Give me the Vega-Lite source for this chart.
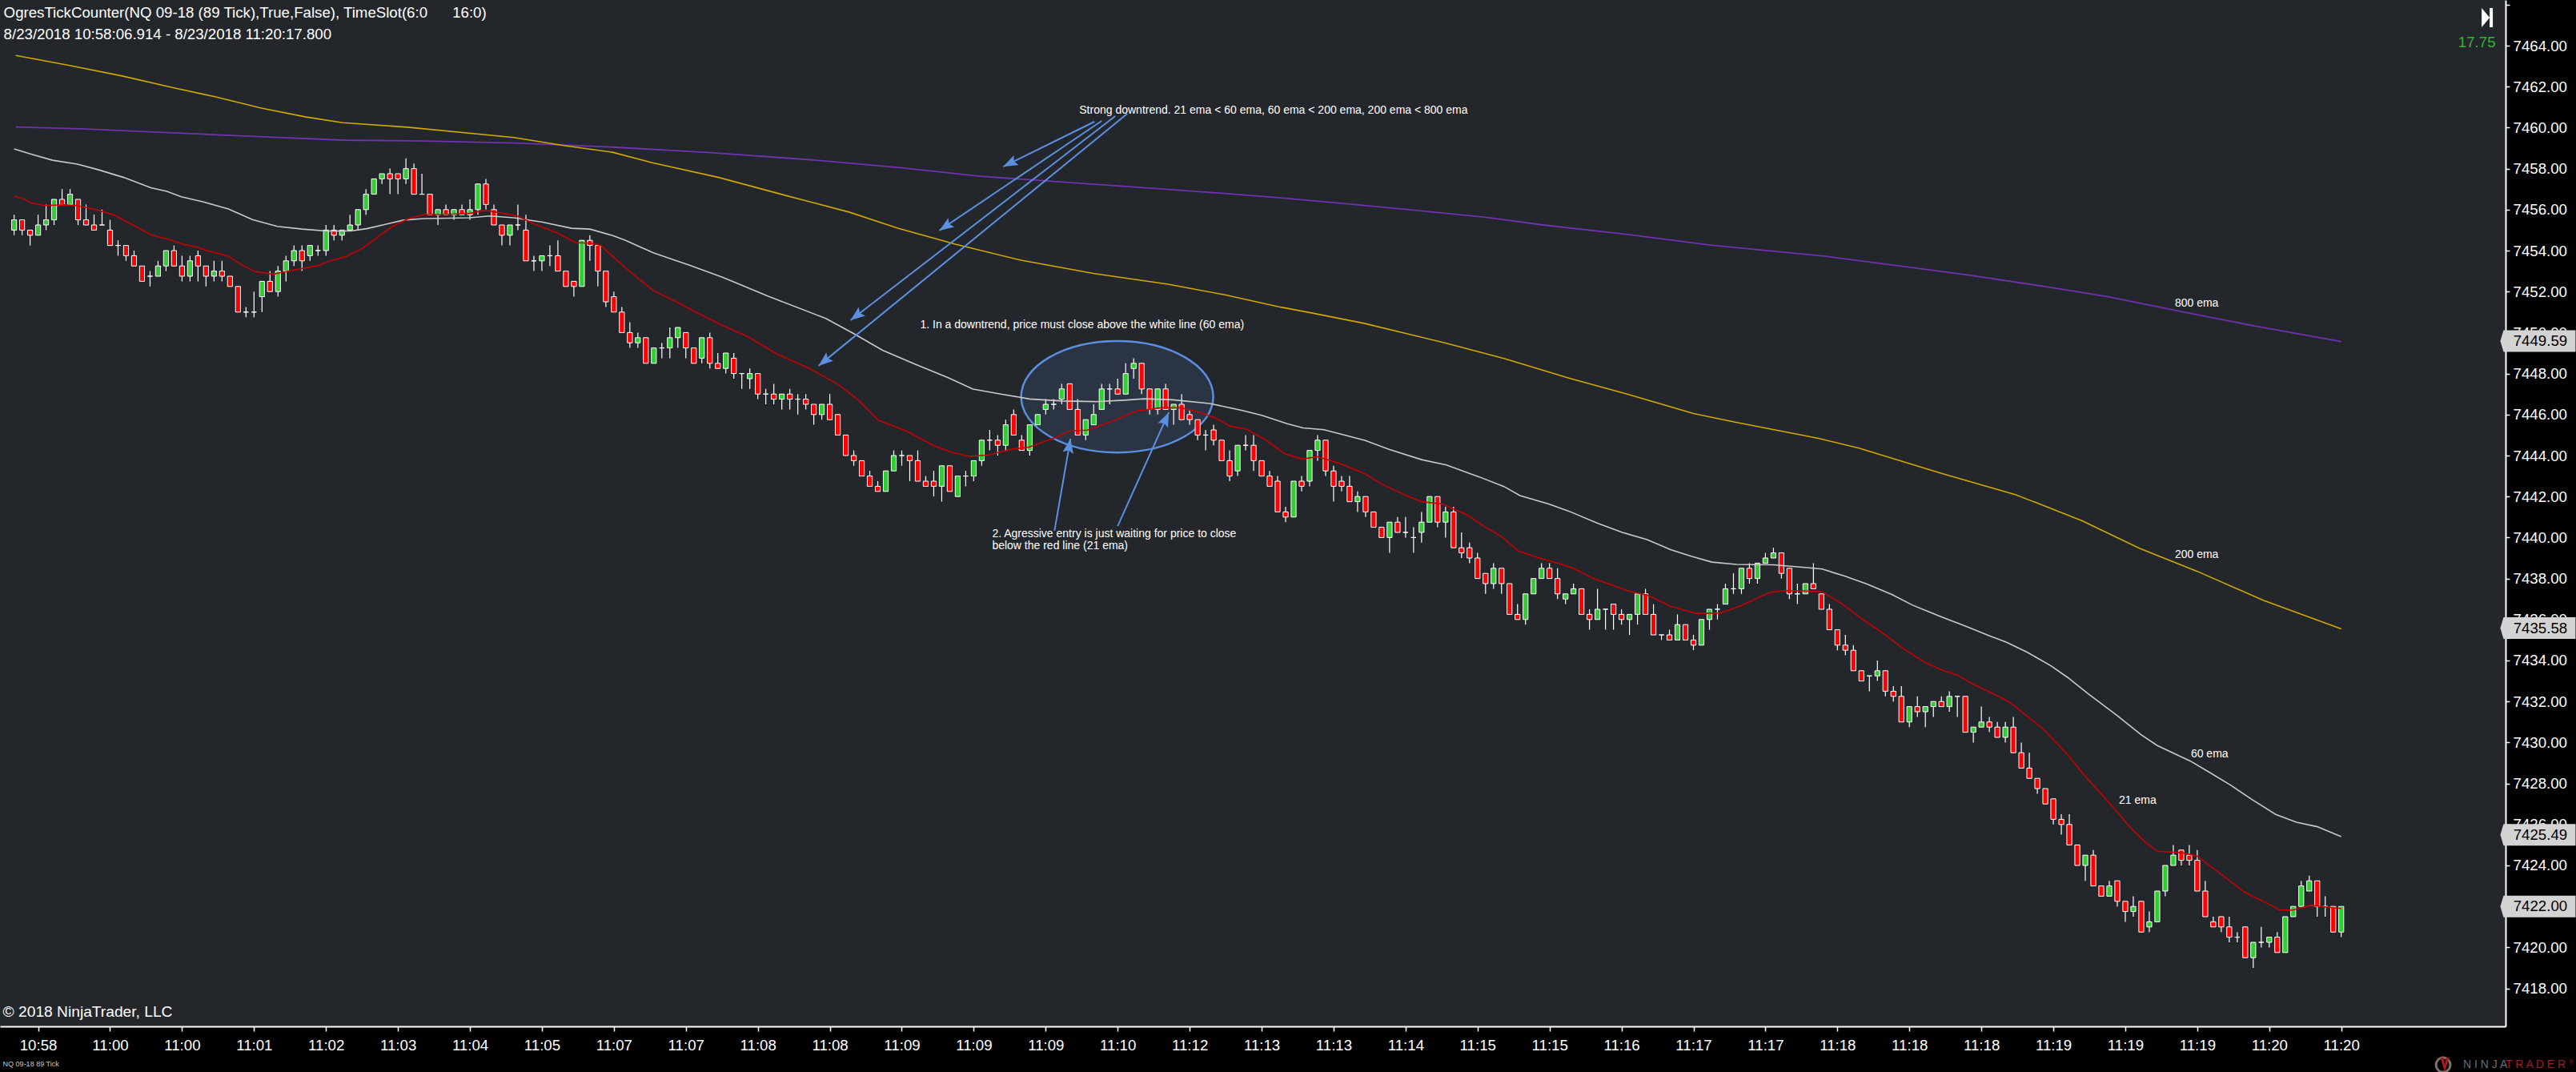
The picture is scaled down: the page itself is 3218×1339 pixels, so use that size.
{"$schema":"https://vega.github.io/schema/vega-lite/v6.json","width":3130,"height":1282,"autosize":{"type":"none"},"padding":{"left":0,"top":0,"right":88,"bottom":57},"background":"#000000","view":{"fill":"#23272c","stroke":null},
"datasets":{"candles":[
{"i":0,"open":7455,"high":7455.75,"low":7454.75,"close":7455.5},{"i":1,"open":7455.5,"high":7455.5,"low":7454.75,"close":7455},{"i":2,"open":7455,"high":7455,"low":7454.25,"close":7454.75},{"i":3,"open":7454.75,"high":7455.75,"low":7454.75,"close":7455.25},{"i":4,"open":7455.25,"high":7456.25,"low":7455,"close":7455.5},{"i":5,"open":7455.5,"high":7456.5,"low":7455.25,"close":7456.5},{"i":6,"open":7456.5,"high":7457,"low":7456.25,"close":7456.25},{"i":7,"open":7456.25,"high":7457,"low":7456.25,"close":7456.75},{"i":8,"open":7456.5,"high":7456.5,"low":7455.25,"close":7455.5},{"i":9,"open":7455.5,"high":7456.25,"low":7455.25,"close":7455.25},
{"i":10,"open":7455.25,"high":7455.75,"low":7455,"close":7455},{"i":11,"open":7455.25,"high":7456,"low":7455.25,"close":7455.25},{"i":12,"open":7455,"high":7455.5,"low":7454.25,"close":7454.25},{"i":13,"open":7454.25,"high":7454.5,"low":7453.75,"close":7454.25},{"i":14,"open":7454.25,"high":7454.25,"low":7453.5,"close":7453.75},{"i":15,"open":7453.75,"high":7454,"low":7453.25,"close":7453.25},{"i":16,"open":7453.25,"high":7453.25,"low":7452.5,"close":7452.5},{"i":17,"open":7452.75,"high":7453,"low":7452.25,"close":7452.75},{"i":18,"open":7452.75,"high":7453.5,"low":7452.75,"close":7453.25},{"i":19,"open":7453.25,"high":7454,"low":7453,"close":7454},
{"i":20,"open":7454,"high":7454.25,"low":7453.25,"close":7453.25},{"i":21,"open":7453.25,"high":7453.75,"low":7452.5,"close":7452.75},{"i":22,"open":7452.75,"high":7453.75,"low":7452.5,"close":7453.5},{"i":23,"open":7453.75,"high":7454,"low":7452.5,"close":7453.25},{"i":24,"open":7453.25,"high":7453.25,"low":7452.25,"close":7452.75},{"i":25,"open":7452.75,"high":7453.5,"low":7452.5,"close":7453},{"i":26,"open":7453,"high":7453.5,"low":7452.5,"close":7452.75},{"i":27,"open":7452.75,"high":7452.75,"low":7452.25,"close":7452.25},{"i":28,"open":7452.25,"high":7452.25,"low":7451,"close":7451},{"i":29,"open":7451,"high":7451.25,"low":7450.75,"close":7451},
{"i":30,"open":7451,"high":7452,"low":7450.75,"close":7451},{"i":31,"open":7451.75,"high":7452.5,"low":7451,"close":7452.5},{"i":32,"open":7452.5,"high":7453,"low":7452,"close":7452},{"i":33,"open":7452,"high":7453.25,"low":7451.75,"close":7453},{"i":34,"open":7453,"high":7453.75,"low":7452.5,"close":7453.5},{"i":35,"open":7453.5,"high":7454.25,"low":7453.25,"close":7454},{"i":36,"open":7454,"high":7454.25,"low":7453,"close":7453.5},{"i":37,"open":7453.75,"high":7454.25,"low":7453.5,"close":7454.25},{"i":38,"open":7454,"high":7454.25,"low":7453.75,"close":7454},{"i":39,"open":7454,"high":7455.25,"low":7453.75,"close":7455},
{"i":40,"open":7455,"high":7455.25,"low":7454.5,"close":7454.75},{"i":41,"open":7454.75,"high":7455,"low":7454.5,"close":7455},{"i":42,"open":7455,"high":7455.75,"low":7455,"close":7455.25},{"i":43,"open":7455.25,"high":7456,"low":7455,"close":7456},{"i":44,"open":7456,"high":7457,"low":7455.75,"close":7456.75},{"i":45,"open":7456.75,"high":7457.5,"low":7456.75,"close":7457.5},{"i":46,"open":7457.5,"high":7457.75,"low":7457.25,"close":7457.75},{"i":47,"open":7457.75,"high":7458,"low":7456.75,"close":7457.5},{"i":48,"open":7457.75,"high":7457.75,"low":7456.75,"close":7457.5},{"i":49,"open":7457.5,"high":7458.5,"low":7457.25,"close":7458},
{"i":50,"open":7458,"high":7458.25,"low":7456.75,"close":7456.75},{"i":51,"open":7456.75,"high":7457.75,"low":7456.75,"close":7456.75},{"i":52,"open":7456.75,"high":7456.75,"low":7455.75,"close":7455.75},{"i":53,"open":7455.75,"high":7456,"low":7455.25,"close":7456},{"i":54,"open":7456,"high":7456.25,"low":7455.75,"close":7455.75},{"i":55,"open":7455.75,"high":7456,"low":7455.5,"close":7456},{"i":56,"open":7456,"high":7456.25,"low":7455.75,"close":7455.75},{"i":57,"open":7455.75,"high":7456.5,"low":7455.5,"close":7456},{"i":58,"open":7456,"high":7457.25,"low":7455.75,"close":7457.25},{"i":59,"open":7457.25,"high":7457.5,"low":7456,"close":7456.25},
{"i":60,"open":7456,"high":7456.25,"low":7455.25,"close":7455.25},{"i":61,"open":7455.25,"high":7455.25,"low":7454.25,"close":7454.75},{"i":62,"open":7454.75,"high":7455.25,"low":7454.25,"close":7455.25},{"i":63,"open":7455.25,"high":7456.25,"low":7455,"close":7455.25},{"i":64,"open":7455,"high":7455.75,"low":7453.5,"close":7453.5},{"i":65,"open":7453.5,"high":7453.75,"low":7453,"close":7453.5},{"i":66,"open":7453.5,"high":7453.75,"low":7453,"close":7453.75},{"i":67,"open":7453.75,"high":7454.25,"low":7453.25,"close":7453.75},{"i":68,"open":7453.75,"high":7454.5,"low":7453,"close":7453},{"i":69,"open":7453,"high":7453,"low":7452.25,"close":7452.25},
{"i":70,"open":7452.5,"high":7452.5,"low":7451.75,"close":7452.25},{"i":71,"open":7452.25,"high":7454.5,"low":7452.25,"close":7454.5},{"i":72,"open":7454.5,"high":7454.75,"low":7453.5,"close":7454.25},{"i":73,"open":7454.25,"high":7454.25,"low":7452.25,"close":7453},{"i":74,"open":7453,"high":7453,"low":7451.25,"close":7451.5},{"i":75,"open":7451.75,"high":7452,"low":7451,"close":7451},{"i":76,"open":7451,"high":7451.25,"low":7450,"close":7450},{"i":77,"open":7450,"high":7450.5,"low":7449.25,"close":7449.5},{"i":78,"open":7449.5,"high":7450,"low":7449.25,"close":7449.75},{"i":79,"open":7449.75,"high":7449.75,"low":7448.5,"close":7448.5},
{"i":80,"open":7448.5,"high":7449.25,"low":7448.5,"close":7449.25},{"i":81,"open":7449.25,"high":7449.5,"low":7448.75,"close":7449.25},{"i":82,"open":7449.25,"high":7450.25,"low":7448.75,"close":7449.75},{"i":83,"open":7449.75,"high":7450.25,"low":7449.25,"close":7450.25},{"i":84,"open":7450,"high":7450,"low":7448.75,"close":7449.25},{"i":85,"open":7449.25,"high":7449.25,"low":7448.5,"close":7448.5},{"i":86,"open":7448.75,"high":7449.75,"low":7448.5,"close":7449.75},{"i":87,"open":7449.75,"high":7450,"low":7448.25,"close":7448.5},{"i":88,"open":7448.5,"high":7449,"low":7448.25,"close":7448.25},{"i":89,"open":7448.25,"high":7449,"low":7448,"close":7449},
{"i":90,"open":7448.75,"high":7449,"low":7447.75,"close":7448},{"i":91,"open":7448,"high":7448,"low":7447.25,"close":7448},{"i":92,"open":7447.75,"high":7448.25,"low":7447.25,"close":7448},{"i":93,"open":7448,"high":7448,"low":7446.75,"close":7447},{"i":94,"open":7447,"high":7447.25,"low":7446.5,"close":7447},{"i":95,"open":7447,"high":7447.5,"low":7446.5,"close":7446.75},{"i":96,"open":7446.75,"high":7447,"low":7446.25,"close":7447},{"i":97,"open":7447,"high":7447.25,"low":7446.25,"close":7446.75},{"i":98,"open":7446.75,"high":7447,"low":7446,"close":7446.75},{"i":99,"open":7446.75,"high":7447,"low":7446.25,"close":7446.5},
{"i":100,"open":7446.5,"high":7446.5,"low":7445.5,"close":7446},{"i":101,"open":7446,"high":7446.5,"low":7445.75,"close":7446.5},{"i":102,"open":7446.5,"high":7447,"low":7445.75,"close":7445.75},{"i":103,"open":7446,"high":7446,"low":7445,"close":7445},{"i":104,"open":7445,"high":7445,"low":7444,"close":7444},{"i":105,"open":7444,"high":7444.25,"low":7443.5,"close":7443.75},{"i":106,"open":7443.75,"high":7443.75,"low":7443,"close":7443},{"i":107,"open":7443,"high":7443.25,"low":7442.5,"close":7442.5},{"i":108,"open":7442.5,"high":7442.75,"low":7442.25,"close":7442.25},{"i":109,"open":7442.25,"high":7443.25,"low":7442.25,"close":7443.25},
{"i":110,"open":7443.25,"high":7444.25,"low":7443.25,"close":7444},{"i":111,"open":7444,"high":7444.25,"low":7443.5,"close":7444},{"i":112,"open":7444,"high":7444,"low":7442.75,"close":7443.75},{"i":113,"open":7443.75,"high":7444.25,"low":7442.75,"close":7442.75},{"i":114,"open":7442.75,"high":7443,"low":7442.5,"close":7442.5},{"i":115,"open":7442.75,"high":7443.25,"low":7442,"close":7442.5},{"i":116,"open":7442.5,"high":7443.5,"low":7441.75,"close":7443.5},{"i":117,"open":7443.5,"high":7443.5,"low":7442.25,"close":7442.25},{"i":118,"open":7442,"high":7443,"low":7442,"close":7443},{"i":119,"open":7443,"high":7443.25,"low":7442.5,"close":7443},
{"i":120,"open":7443,"high":7443.75,"low":7442.75,"close":7443.75},{"i":121,"open":7443.75,"high":7444.75,"low":7443.5,"close":7444.75},{"i":122,"open":7444.75,"high":7445.25,"low":7444.25,"close":7444.75},{"i":123,"open":7444.75,"high":7445,"low":7444,"close":7444.5},{"i":124,"open":7444.5,"high":7445.75,"low":7444.25,"close":7445.5},{"i":125,"open":7446,"high":7446.25,"low":7445,"close":7445},{"i":126,"open":7444.75,"high":7445,"low":7444.25,"close":7444.25},{"i":127,"open":7444.25,"high":7445.5,"low":7444,"close":7445.5},{"i":128,"open":7445.5,"high":7446,"low":7445.5,"close":7446},{"i":129,"open":7446.25,"high":7446.75,"low":7446,"close":7446.5},
{"i":130,"open":7446.5,"high":7446.75,"low":7446.25,"close":7446.5},{"i":131,"open":7446.75,"high":7447.5,"low":7446.5,"close":7447.25},{"i":132,"open":7447.5,"high":7447.5,"low":7446.25,"close":7446.25},{"i":133,"open":7446.25,"high":7446.75,"low":7445,"close":7445},{"i":134,"open":7445,"high":7445.75,"low":7444.75,"close":7445.75},{"i":135,"open":7445.5,"high":7446.5,"low":7445.5,"close":7446},{"i":136,"open":7446.25,"high":7447.5,"low":7446.25,"close":7447.25},{"i":137,"open":7447.25,"high":7447.5,"low":7446.5,"close":7447.25},{"i":138,"open":7447.25,"high":7447.75,"low":7447,"close":7447},{"i":139,"open":7447,"high":7448.5,"low":7447,"close":7448},
{"i":140,"open":7448.25,"high":7448.75,"low":7447.75,"close":7448.5},{"i":141,"open":7448.5,"high":7448.5,"low":7447,"close":7447.25},{"i":142,"open":7447.25,"high":7447.25,"low":7446,"close":7446.25},{"i":143,"open":7446.25,"high":7447.25,"low":7446,"close":7447.25},{"i":144,"open":7447.25,"high":7447.5,"low":7446.25,"close":7446.25},{"i":145,"open":7446.25,"high":7446.5,"low":7445.5,"close":7446.5},{"i":146,"open":7446.5,"high":7447,"low":7445.75,"close":7445.75},{"i":147,"open":7446,"high":7446.25,"low":7445.5,"close":7445.75},{"i":148,"open":7445.75,"high":7445.75,"low":7444.75,"close":7445},{"i":149,"open":7445,"high":7445.25,"low":7444.25,"close":7445},
{"i":150,"open":7445.25,"high":7445.5,"low":7444.5,"close":7444.75},{"i":151,"open":7444.75,"high":7444.75,"low":7443.75,"close":7443.75},{"i":152,"open":7443.75,"high":7444.25,"low":7442.75,"close":7443},{"i":153,"open":7443.25,"high":7444.5,"low":7443,"close":7444.5},{"i":154,"open":7444.5,"high":7445,"low":7444.25,"close":7444.5},{"i":155,"open":7444.5,"high":7445,"low":7443.25,"close":7443.75},{"i":156,"open":7443.75,"high":7443.75,"low":7443,"close":7443},{"i":157,"open":7443,"high":7443.25,"low":7442.5,"close":7442.5},{"i":158,"open":7442.75,"high":7443,"low":7441.25,"close":7441.25},{"i":159,"open":7441.25,"high":7441.5,"low":7440.75,"close":7441},
{"i":160,"open":7441,"high":7442.75,"low":7441,"close":7442.75},{"i":161,"open":7442.75,"high":7443,"low":7442.25,"close":7442.5},{"i":162,"open":7442.75,"high":7444.25,"low":7442.5,"close":7444.25},{"i":163,"open":7444.25,"high":7445,"low":7443.75,"close":7444.75},{"i":164,"open":7444.75,"high":7444.75,"low":7443,"close":7443.25},{"i":165,"open":7443.25,"high":7443.5,"low":7441.75,"close":7442.5},{"i":166,"open":7442.75,"high":7443,"low":7442.25,"close":7442.5},{"i":167,"open":7442.5,"high":7443,"low":7441.75,"close":7441.75},{"i":168,"open":7441.75,"high":7442.25,"low":7441.25,"close":7442},{"i":169,"open":7442,"high":7442,"low":7441,"close":7441.25},
{"i":170,"open":7441.25,"high":7441.25,"low":7440.5,"close":7440.5},{"i":171,"open":7440.5,"high":7440.5,"low":7440,"close":7440},{"i":172,"open":7440,"high":7440.75,"low":7439.25,"close":7440.75},{"i":173,"open":7440.75,"high":7441,"low":7440.25,"close":7440.25},{"i":174,"open":7440.25,"high":7441,"low":7440,"close":7440.25},{"i":175,"open":7440,"high":7440.5,"low":7439.25,"close":7440},{"i":176,"open":7440.25,"high":7441.25,"low":7439.75,"close":7440.75},{"i":177,"open":7440.75,"high":7442,"low":7440.75,"close":7442},{"i":178,"open":7442,"high":7442,"low":7440.5,"close":7440.75},{"i":179,"open":7440.75,"high":7441.5,"low":7440,"close":7441.25},
{"i":180,"open":7441.25,"high":7441.5,"low":7439.5,"close":7439.5},{"i":181,"open":7439.5,"high":7440.25,"low":7439,"close":7439.25},{"i":182,"open":7439.5,"high":7439.75,"low":7438.75,"close":7439},{"i":183,"open":7439,"high":7439.25,"low":7438,"close":7438},{"i":184,"open":7438.25,"high":7438.25,"low":7437.25,"close":7437.75},{"i":185,"open":7437.75,"high":7438.75,"low":7437.5,"close":7438.5},{"i":186,"open":7438.5,"high":7438.5,"low":7437.25,"close":7437.75},{"i":187,"open":7437.75,"high":7437.75,"low":7436.25,"close":7436.25},{"i":188,"open":7436.25,"high":7436.75,"low":7436,"close":7436},{"i":189,"open":7436,"high":7437.25,"low":7435.75,"close":7437.25},
{"i":190,"open":7437.25,"high":7438,"low":7437.25,"close":7438},{"i":191,"open":7438,"high":7438.75,"low":7438,"close":7438.5},{"i":192,"open":7438.5,"high":7438.75,"low":7438,"close":7438},{"i":193,"open":7438,"high":7438.5,"low":7437,"close":7437.25},{"i":194,"open":7437,"high":7437.25,"low":7436.75,"close":7437.25},{"i":195,"open":7437.25,"high":7437.75,"low":7437.25,"close":7437.5},{"i":196,"open":7437.5,"high":7437.5,"low":7436.25,"close":7436.25},{"i":197,"open":7436.25,"high":7436.5,"low":7435.5,"close":7436},{"i":198,"open":7436,"high":7437.5,"low":7436,"close":7436.5},{"i":199,"open":7436.5,"high":7436.5,"low":7435.5,"close":7436.5},
{"i":200,"open":7436.75,"high":7436.75,"low":7435.5,"close":7436.25},{"i":201,"open":7436.25,"high":7436.5,"low":7435.75,"close":7436},{"i":202,"open":7436,"high":7436.25,"low":7435.25,"close":7436.25},{"i":203,"open":7436.25,"high":7437.25,"low":7435.75,"close":7437.25},{"i":204,"open":7437.25,"high":7437.5,"low":7436.25,"close":7436.25},{"i":205,"open":7436.25,"high":7436.75,"low":7435.25,"close":7435.25},{"i":206,"open":7435.25,"high":7435.25,"low":7435,"close":7435.25},{"i":207,"open":7435.25,"high":7435.5,"low":7435,"close":7435},{"i":208,"open":7435,"high":7436.25,"low":7435,"close":7435.75},{"i":209,"open":7435.75,"high":7435.75,"low":7435,"close":7435},
{"i":210,"open":7435,"high":7435.25,"low":7434.5,"close":7434.75},{"i":211,"open":7434.75,"high":7436,"low":7434.75,"close":7436},{"i":212,"open":7436,"high":7436.5,"low":7435.5,"close":7436.5},{"i":213,"open":7436.5,"high":7436.75,"low":7436,"close":7436.5},{"i":214,"open":7436.75,"high":7437.75,"low":7436.75,"close":7437.5},{"i":215,"open":7437.5,"high":7438.25,"low":7437.25,"close":7437.5},{"i":216,"open":7437.5,"high":7438.5,"low":7437.25,"close":7438.5},{"i":217,"open":7438.5,"high":7438.75,"low":7437.75,"close":7438},{"i":218,"open":7438,"high":7438.75,"low":7437.75,"close":7438.75},{"i":219,"open":7438.75,"high":7439.25,"low":7438.75,"close":7439},
{"i":220,"open":7439,"high":7439.5,"low":7439,"close":7439.25},{"i":221,"open":7439.25,"high":7439.25,"low":7438,"close":7438.25},{"i":222,"open":7438.5,"high":7438.5,"low":7437,"close":7437.25},{"i":223,"open":7437.25,"high":7437.75,"low":7436.75,"close":7437.25},{"i":224,"open":7437.25,"high":7437.75,"low":7437.25,"close":7437.75},{"i":225,"open":7437.75,"high":7438.75,"low":7437.5,"close":7437.5},{"i":226,"open":7437.25,"high":7437.25,"low":7436.5,"close":7436.5},{"i":227,"open":7436.5,"high":7436.75,"low":7435.5,"close":7435.5},{"i":228,"open":7435.5,"high":7435.5,"low":7434.5,"close":7434.75},{"i":229,"open":7434.75,"high":7435.25,"low":7434.25,"close":7434.5},
{"i":230,"open":7434.5,"high":7434.75,"low":7433.5,"close":7433.5},{"i":231,"open":7433.5,"high":7433.5,"low":7433,"close":7433},{"i":232,"open":7433.25,"high":7433.25,"low":7432.5,"close":7433.25},{"i":233,"open":7433.25,"high":7434,"low":7433,"close":7433.5},{"i":234,"open":7433.5,"high":7433.5,"low":7432.25,"close":7432.5},{"i":235,"open":7432.5,"high":7432.75,"low":7432,"close":7432.25},{"i":236,"open":7432.25,"high":7432.75,"low":7431,"close":7431},{"i":237,"open":7431,"high":7431.75,"low":7430.75,"close":7431.75},{"i":238,"open":7431.75,"high":7432.25,"low":7431.25,"close":7431.5},{"i":239,"open":7431.5,"high":7431.75,"low":7430.75,"close":7431.75},
{"i":240,"open":7431.75,"high":7432,"low":7431.25,"close":7432},{"i":241,"open":7432,"high":7432.25,"low":7431.75,"close":7431.75},{"i":242,"open":7431.75,"high":7432.5,"low":7431.5,"close":7432.25},{"i":243,"open":7432.25,"high":7432.25,"low":7431.25,"close":7432.25},{"i":244,"open":7432.25,"high":7432.25,"low":7430.5,"close":7430.5},{"i":245,"open":7430.5,"high":7430.75,"low":7430,"close":7430.75},{"i":246,"open":7430.75,"high":7431.75,"low":7430.75,"close":7431},{"i":247,"open":7431,"high":7431.25,"low":7430.5,"close":7430.75},{"i":248,"open":7430.75,"high":7431,"low":7430.25,"close":7430.25},{"i":249,"open":7430.25,"high":7431,"low":7430,"close":7430.75},
{"i":250,"open":7430.75,"high":7431.25,"low":7429.5,"close":7429.5},{"i":251,"open":7429.5,"high":7430,"low":7428.75,"close":7428.75},{"i":252,"open":7428.75,"high":7429.5,"low":7428.25,"close":7428.25},{"i":253,"open":7428.25,"high":7428.25,"low":7427.5,"close":7427.75},{"i":254,"open":7427.75,"high":7427.75,"low":7427,"close":7427},{"i":255,"open":7427.25,"high":7427.25,"low":7426,"close":7426.25},{"i":256,"open":7426.25,"high":7426.5,"low":7425.5,"close":7426},{"i":257,"open":7426,"high":7426.5,"low":7425,"close":7425},{"i":258,"open":7425,"high":7425,"low":7424,"close":7424},{"i":259,"open":7424,"high":7424.5,"low":7423.25,"close":7424.5},
{"i":260,"open":7424.5,"high":7424.75,"low":7423,"close":7423},{"i":261,"open":7423,"high":7423,"low":7422.5,"close":7422.5},{"i":262,"open":7422.5,"high":7423.25,"low":7422.5,"close":7423},{"i":263,"open":7423.25,"high":7423.25,"low":7422,"close":7422.25},{"i":264,"open":7422.25,"high":7422.25,"low":7421.25,"close":7421.75},{"i":265,"open":7421.75,"high":7422.5,"low":7421.5,"close":7422},{"i":266,"open":7422.25,"high":7422.25,"low":7420.75,"close":7420.75},{"i":267,"open":7421,"high":7421.75,"low":7420.75,"close":7421.25},{"i":268,"open":7421.25,"high":7422.75,"low":7421.25,"close":7422.75},{"i":269,"open":7422.75,"high":7424,"low":7422.5,"close":7424},
{"i":270,"open":7424,"high":7425,"low":7424,"close":7424.5},{"i":271,"open":7424.75,"high":7424.75,"low":7424,"close":7424.25},{"i":272,"open":7424.5,"high":7425,"low":7424,"close":7424.25},{"i":273,"open":7424.25,"high":7424.75,"low":7422.75,"close":7422.75},{"i":274,"open":7422.75,"high":7423.25,"low":7421.5,"close":7421.5},{"i":275,"open":7421.25,"high":7421.5,"low":7421,"close":7421},{"i":276,"open":7421.5,"high":7421.5,"low":7420.75,"close":7421},{"i":277,"open":7421,"high":7421.5,"low":7420.25,"close":7420.5},{"i":278,"open":7420.5,"high":7420.75,"low":7420.25,"close":7420.5},{"i":279,"open":7421,"high":7421,"low":7419.5,"close":7419.5},
{"i":280,"open":7419.5,"high":7420.25,"low":7419,"close":7420.25},{"i":281,"open":7420.25,"high":7421,"low":7420,"close":7420.25},{"i":282,"open":7420.25,"high":7420.5,"low":7420,"close":7420.5},{"i":283,"open":7420.5,"high":7420.75,"low":7419.75,"close":7419.75},{"i":284,"open":7419.75,"high":7421.5,"low":7419.75,"close":7421.5},{"i":285,"open":7421.5,"high":7422,"low":7421.5,"close":7422},{"i":286,"open":7422,"high":7423.25,"low":7422,"close":7423},{"i":287,"open":7422.75,"high":7423.5,"low":7422.75,"close":7423.25},{"i":288,"open":7423.25,"high":7423.25,"low":7421.5,"close":7422},{"i":289,"open":7422,"high":7422.5,"low":7421.5,"close":7422},
{"i":290,"open":7422,"high":7422,"low":7420.75,"close":7420.75},{"i":291,"open":7420.75,"high":7422,"low":7420.5,"close":7422}
],
"ema21":[[0,7456.66],[1.2,7456.53],[2.1,7456.33],[3.8,7456.2],[6.3,7456.23],[7.9,7456.2],[10.4,7455.98],[12.5,7455.74],[15,7455.22],[17.1,7454.77],[19.1,7454.57],[21.2,7454.3],[22.9,7454.17],[24.2,7453.99],[26.8,7453.73],[28.3,7453.34],[30.1,7452.98],[32.4,7452.85],[35,7453.05],[38,7453.27],[39.5,7453.49],[41.6,7453.73],[43.6,7454.12],[45.2,7454.57],[47.2,7455.16],[49.3,7455.55],[51.3,7455.77],[54.4,7455.77],[56.9,7455.81],[58.5,7455.94],[59.5,7455.94],[63,7455.68],[65.1,7455.29],[67.9,7454.86],[70.2,7454.39],[72.3,7454.35],[73.4,7454.25],[74.8,7453.73],[76.9,7453.01],[80,7452.03],[82.8,7451.51],[85.1,7451.02],[88.4,7450.38],[91.8,7449.79],[95.3,7448.97],[99.4,7448.26],[103,7447.48],[105.6,7446.7],[108.1,7445.72],[111.7,7445.17],[115,7444.48],[117.3,7444.16],[119.3,7443.96],[121.9,7444.03],[124.5,7444.29],[127,7444.42],[130.6,7444.94],[132.1,7445.2],[134.2,7445.24],[137.2,7445.65],[140.3,7446.17],[143.4,7446.33],[145.9,7446.33],[148.5,7446.08],[150.5,7445.78],[152,7445.44],[154.1,7445.29],[156.6,7444.74],[158.9,7444.09],[161,7443.83],[163,7443.94],[165.8,7443.61],[168.9,7443.11],[171.2,7442.57],[174,7442.07],[176,7441.75],[178.6,7441.64],[181.7,7441.1],[184.2,7440.45],[186,7440.05],[188.1,7439.34],[190.4,7439.04],[193.2,7438.73],[195,7438.49],[197.5,7438],[202.1,7437.36],[204.2,7437.19],[207.2,7436.64],[210.3,7436.3],[213.4,7436.32],[215.9,7436.67],[219.5,7437.32],[221.5,7437.41],[223.6,7437.4],[226.1,7437.35],[228.7,7436.73],[231,7436.05],[233.8,7435.3],[236.3,7434.56],[238.9,7433.92],[241.2,7433.51],[243,7433.29],[245,7432.84],[247.8,7432.32],[249.6,7431.94],[253.7,7430.67],[256.8,7429.4],[258.8,7428.43],[260.9,7427.53],[262.4,7426.86],[264.9,7425.74],[266.5,7425.14],[268,7424.69],[271.1,7424.62],[272.9,7424.47],[275.7,7423.65],[279,7422.67],[282.1,7422.08],[283.3,7421.82],[284.9,7421.82],[287.2,7422.05],[289.2,7421.97],[291,7421.9]],
"ema60":[[0,7458.96],[2.2,7458.7],[4.8,7458.41],[7.9,7458.22],[10.4,7457.96],[13.7,7457.57],[17.1,7457.07],[19.1,7456.89],[20.9,7456.63],[23.7,7456.37],[26.8,7456.03],[29.8,7455.51],[32.9,7455.18],[36,7455.05],[39,7454.96],[42.1,7454.96],[44.1,7455.07],[46.2,7455.26],[48.7,7455.49],[51.3,7455.56],[54.4,7455.58],[56.9,7455.6],[59.5,7455.69],[62.5,7455.6],[66.1,7455.39],[69.7,7455.09],[72,7455.05],[74.8,7454.74],[76.4,7454.51],[78.3,7454.18],[80,7453.88],[84.6,7453.27],[88.7,7452.68],[94.3,7451.77],[101.5,7450.69],[105,7449.95],[108.6,7449.14],[112.7,7448.45],[116.8,7447.8],[119.9,7447.24],[123.4,7447],[127,7446.76],[131.1,7446.66],[135.2,7446.63],[138.8,7446.7],[141.3,7446.77],[144.9,7446.72],[149.5,7446.54],[153.6,7446.2],[156.1,7445.95],[159.2,7445.55],[161.2,7445.35],[163.8,7445.26],[168.9,7444.74],[172,7444.29],[176,7443.8],[179.1,7443.54],[183.2,7442.96],[186.3,7442.49],[188.3,7442.05],[191.9,7441.64],[194.4,7441.29],[198,7440.7],[201.1,7440.25],[204.2,7439.9],[207.2,7439.4],[209.8,7439.08],[212.3,7438.8],[215.4,7438.69],[220,7438.67],[223.6,7438.55],[226.1,7438.46],[228.9,7438.12],[231.7,7437.73],[234.8,7437.22],[237.4,7436.7],[241,7436.13],[244,7435.68],[247.1,7435.19],[249.1,7434.9],[251.7,7434.41],[254.7,7433.74],[256.8,7433.17],[259.3,7432.39],[262.9,7431.34],[266,7430.37],[268,7429.85],[272.1,7429.1],[274.7,7428.5],[277.2,7427.91],[279.8,7427.23],[282.8,7426.49],[285.4,7426.11],[288,7425.89],[291,7425.41]],
"ema200":[[0.2,7463.52],[6.8,7463.04],[13.5,7462.52],[20.1,7461.93],[25.2,7461.5],[30.9,7460.95],[36.5,7460.52],[41.1,7460.24],[49.2,7460.02],[62.5,7459.52],[68.7,7459.13],[74.8,7458.8],[79.9,7458.28],[88.1,7457.57],[96.2,7456.72],[104.4,7455.88],[110.5,7455.09],[117.7,7454.31],[125.9,7453.53],[135.1,7452.88],[144.3,7452.36],[151.4,7451.84],[158.4,7451.24],[162.5,7450.94],[168.7,7450.46],[179,7449.49],[186.3,7448.74],[194.5,7447.77],[201.8,7446.99],[210,7446.05],[215.2,7445.63],[225.5,7444.85],[230.7,7444.36],[241,7443.13],[250.3,7442.09],[258.6,7440.82],[265.8,7439.47],[273,7438.35],[281.3,7436.93],[291,7435.54]],
"ema800":[[0.2,7460.03],[8.4,7459.94],[18.6,7459.77],[28.8,7459.59],[41.1,7459.39],[51.3,7459.35],[62.5,7459.25],[74.8,7459.05],[87.1,7458.78],[100.3,7458.41],[110.5,7458.06],[120.8,7457.63],[129,7457.4],[141.2,7457.07],[151.4,7456.79],[158.4,7456.57],[165.6,7456.32],[173.9,7456.02],[184.2,7455.62],[191.4,7455.24],[201.8,7454.79],[212.1,7454.27],[226.6,7453.72],[234.8,7453.3],[244.1,7452.82],[254.4,7452.22],[261.7,7451.76],[272,7450.95],[280.3,7450.31],[291,7449.56]],
"arrows":[{"i":135.1,"p":7460.29,"ti":123.7,"tp":7458.1},{"i":136,"p":7460.33,"ti":115.7,"tp":7454.98},{"i":137.7,"p":7460.56,"ti":104.6,"tp":7450.6},{"i":139.2,"p":7460.68,"ti":100.6,"tp":7448.38},{"i":130.1,"p":7440.33,"ti":132.1,"tp":7444.82},{"i":138,"p":7440.56,"ti":144.4,"tp":7446.11}],
"flags":[{"label":"7449.59","p":7449.59},{"label":"7435.58","p":7435.58},{"label":"7425.49","p":7425.49},{"label":"7422.00","p":7422}]
},
"layer":[
{"data":{"values":[{"i":137.94,"p":7446.87}]},"mark":{"type":"point","filled":false,"shape":"M-1,0A1,0.58,0,1,0,1,0A1,0.58,0,1,0,-1,0Z","size":57600,"fill":"#5b8fe0","fillOpacity":0.13,"stroke":"#5b8fe0","strokeWidth":2.5,"opacity":1},"encoding":{"x":{"field":"i","type":"quantitative","scale":{"domain":[-1.762,311.55],"nice":false,"zero":false,"padding":0},"axis":{"values":[3,12,21,30,39,48,57,66,75,84,93,102,111,120,129,138,147,156,165,174,183,192,201,210,219,228,237,246,255,264,273,282,291],"labelExpr":"['10:58','11:00','11:00','11:01','11:02','11:03','11:04','11:05','11:07','11:07','11:08','11:08','11:09','11:09','11:09','11:10','11:12','11:13','11:13','11:14','11:15','11:15','11:16','11:17','11:17','11:18','11:18','11:18','11:19','11:19','11:19','11:20','11:20'][(datum.value-3)/9]","title":null,"grid":false,"domainColor":"#ffffff","domainWidth":2,"tickColor":"#ffffff","tickWidth":1.5,"tickSize":6,"labelColor":"#ffffff","labelFont":"Liberation Sans","labelFontSize":18.67,"labelPadding":8,"labelOverlap":false,"labelBound":false,"labelFlush":false}},"y":{"field":"p","type":"quantitative","scale":{"domain":[7416.148,7466.227],"nice":false,"zero":false},"axis":{"orient":"right","values":[7418,7420,7422,7424,7426,7428,7430,7432,7434,7436,7438,7440,7442,7444,7446,7448,7450,7452,7454,7456,7458,7460,7462,7464,7466],"labelExpr":"datum.value>=7466?'':format(datum.value,'.2f')","title":null,"grid":false,"domainColor":"#ffffff","domainWidth":2,"tickColor":"#ffffff","tickWidth":1.5,"tickSize":5,"labelColor":"#ffffff","labelFont":"Liberation Sans","labelFontSize":18.67,"labelPadding":4,"labelOverlap":false,"labelBound":false,"labelFlush":false}}}},
{"data":{"name":"candles"},"mark":{"type":"rule","color":"#ffffff","strokeWidth":1.2},"encoding":{"x":{"field":"i","type":"quantitative"},"y":{"field":"low","type":"quantitative"},"y2":{"field":"high"}}},
{"data":{"name":"candles"},"mark":{"type":"bar","width":6.2,"stroke":"#ffffff","strokeWidth":1,"opacity":1},"encoding":{"x":{"field":"i","type":"quantitative"},"y":{"field":"open","type":"quantitative"},"y2":{"field":"close"},"color":{"condition":{"test":"datum.close>datum.open","value":"#32cd32"},"value":"#ff0000"}}},
{"data":{"name":"ema800"},"mark":{"type":"line","color":"#6f33ad","strokeWidth":1.8},"encoding":{"x":{"field":"0","type":"quantitative"},"y":{"field":"1","type":"quantitative"}}},
{"data":{"name":"ema200"},"mark":{"type":"line","color":"#d0a800","strokeWidth":1.6},"encoding":{"x":{"field":"0","type":"quantitative"},"y":{"field":"1","type":"quantitative"}}},
{"data":{"name":"ema60"},"mark":{"type":"line","color":"#c9c9c9","strokeWidth":1.6},"encoding":{"x":{"field":"0","type":"quantitative"},"y":{"field":"1","type":"quantitative"}}},
{"data":{"name":"ema21"},"mark":{"type":"line","color":"#c80000","strokeWidth":1.6},"encoding":{"x":{"field":"0","type":"quantitative"},"y":{"field":"1","type":"quantitative"}}},
{"data":{"name":"arrows"},"mark":{"type":"rule","color":"#5b8fe0","strokeWidth":2},"encoding":{"x":{"field":"i","type":"quantitative"},"y":{"field":"p","type":"quantitative"},"x2":{"field":"ti"},"y2":{"field":"tp"}}},
{"data":{"name":"arrows"},"transform":[{"calculate":"atan2((datum.ti-datum.i)*9.99,(datum.tp-datum.p)*25.6)*180/PI","as":"heading"}],"mark":{"type":"point","filled":true,"shape":"M0,0L0.38,1L0,0.82L-0.38,1Z","size":1300,"color":"#5b8fe0","opacity":1},"encoding":{"x":{"field":"ti","type":"quantitative"},"y":{"field":"tp","type":"quantitative"},"angle":{"field":"heading","type":"quantitative","scale":null}}},
{"data":{"values":[{"i":133.2,"p":7460.84,"t":"Strong downtrend. 21 ema < 60 ema, 60 ema < 200 ema, 200 ema < 800 ema"},{"i":113.3,"p":7450.38,"t":"1. In a downtrend, price must close above the white line (60 ema)"},{"i":122.3,"p":7440.17,"t":"2. Agressive entry is just waiting for price to close"},{"i":122.3,"p":7439.59,"t":"below the red line (21 ema)"},{"i":270.2,"p":7451.42,"t":"800 ema"},{"i":270.2,"p":7439.16,"t":"200 ema"},{"i":272.2,"p":7429.43,"t":"60 ema"},{"i":263.2,"p":7427.16,"t":"21 ema"}]},"mark":{"type":"text","align":"left","baseline":"middle","font":"Liberation Sans","fontSize":14,"color":"#ffffff"},"encoding":{"x":{"field":"i","type":"quantitative"},"y":{"field":"p","type":"quantitative"},"text":{"field":"t"}}},
{"data":{"values":[{"i":-1.3,"p":7465.6,"t":"OgresTickCounter(NQ 09-18 (89 Tick),True,False), TimeSlot(6:0\u00a0\u00a0\u00a0\u00a0\u00a0\u00a016:0)"},{"i":-1.3,"p":7464.55,"t":"8/23/2018 10:58:06.914 - 8/23/2018 11:20:17.800"}]},"mark":{"type":"text","align":"left","baseline":"middle","font":"Liberation Sans","fontSize":18.67,"color":"#ffffff"},"encoding":{"x":{"field":"i","type":"quantitative"},"y":{"field":"p","type":"quantitative"},"text":{"field":"t"}}},
{"data":{"values":[{"i":-1.4,"p":7416.85,"t":"© 2018 NinjaTrader, LLC"}]},"mark":{"type":"text","align":"left","baseline":"middle","font":"Liberation Sans","fontSize":19.2,"color":"#ffffff"},"encoding":{"x":{"field":"i","type":"quantitative"},"y":{"field":"p","type":"quantitative"},"text":{"field":"t"}}},
{"data":{"values":[{"i":-1.4,"p":7414.31,"t":"NQ 09-18 89 Tick"}]},"mark":{"type":"text","align":"left","baseline":"middle","font":"Liberation Sans","fontSize":9,"color":"#c8c8c8"},"encoding":{"x":{"field":"i","type":"quantitative"},"y":{"field":"p","type":"quantitative"},"text":{"field":"t"}}},
{"data":{"values":[{"i":310.3,"p":7464.16,"t":"17.75"}]},"mark":{"type":"text","align":"right","baseline":"middle","font":"Liberation Sans","fontSize":18.67,"color":"#2fb52f"},"encoding":{"x":{"field":"i","type":"quantitative"},"y":{"field":"p","type":"quantitative"},"text":{"field":"t"}}},
{"data":{"values":[{"i":309.26,"p":7465.37}]},"mark":{"type":"point","filled":true,"shape":"M-0.58,-1L0.25,0L-0.58,1ZM0.25,-1L0.58,-1L0.58,1L0.25,1Z","size":576,"color":"#ffffff","opacity":1},"encoding":{"x":{"field":"i","type":"quantitative"},"y":{"field":"p","type":"quantitative"}}},
{"data":{"name":"flags"},"transform":[{"calculate":"315.6","as":"i"}],"mark":{"type":"point","filled":true,"shape":"M-1,0L-0.915,-0.287L1,-0.287L1,0.287L-0.915,0.287Z","size":8836,"color":"#d3d3d3","opacity":1},"encoding":{"x":{"field":"i","type":"quantitative"},"y":{"field":"p","type":"quantitative"}}},
{"data":{"name":"flags"},"transform":[{"calculate":"315.9","as":"i"}],"mark":{"type":"text","align":"center","baseline":"middle","font":"Liberation Sans","fontSize":18.67,"color":"#000000"},"encoding":{"x":{"field":"i","type":"quantitative"},"y":{"field":"p","type":"quantitative"},"text":{"field":"label"}}},
{"data":{"values":[{"i":306.25,"p":7414.27,"t":"N I N J A"}]},"mark":{"type":"text","align":"left","baseline":"middle","font":"Liberation Sans","fontSize":14,"color":"#6e6e6e"},"encoding":{"x":{"field":"i","type":"quantitative"},"y":{"field":"p","type":"quantitative"},"text":{"field":"t"}}},
{"data":{"values":[{"i":311.55,"p":7414.27,"t":"T R A D E R"}]},"mark":{"type":"text","align":"left","baseline":"middle","font":"Liberation Sans","fontSize":14,"color":"#a01e25"},"encoding":{"x":{"field":"i","type":"quantitative"},"y":{"field":"p","type":"quantitative"},"text":{"field":"t"}}},
{"data":{"values":[{"i":319.5,"p":7414.4,"t":"®"}]},"mark":{"type":"text","align":"left","baseline":"middle","font":"Liberation Sans","fontSize":8,"color":"#a01e25"},"encoding":{"x":{"field":"i","type":"quantitative"},"y":{"field":"p","type":"quantitative"},"text":{"field":"t"}}},
{"data":{"values":[{"i":303.75,"p":7414.27}]},"mark":{"type":"point","filled":false,"shape":"circle","size":324,"stroke":"#7d736c","strokeWidth":3,"opacity":1},"encoding":{"x":{"field":"i","type":"quantitative"},"y":{"field":"p","type":"quantitative"}}},
{"data":{"values":[{"i":303.95,"p":7414.27}]},"mark":{"type":"point","filled":true,"shape":"M-0.6,-1L0,1L0.6,-1L0.2,-1L0,0L-0.2,-1Z","size":324,"color":"#b0181e","opacity":1},"encoding":{"x":{"field":"i","type":"quantitative"},"y":{"field":"p","type":"quantitative"}}}
],
"config":{"style":{"cell":{"stroke":null}}}}
